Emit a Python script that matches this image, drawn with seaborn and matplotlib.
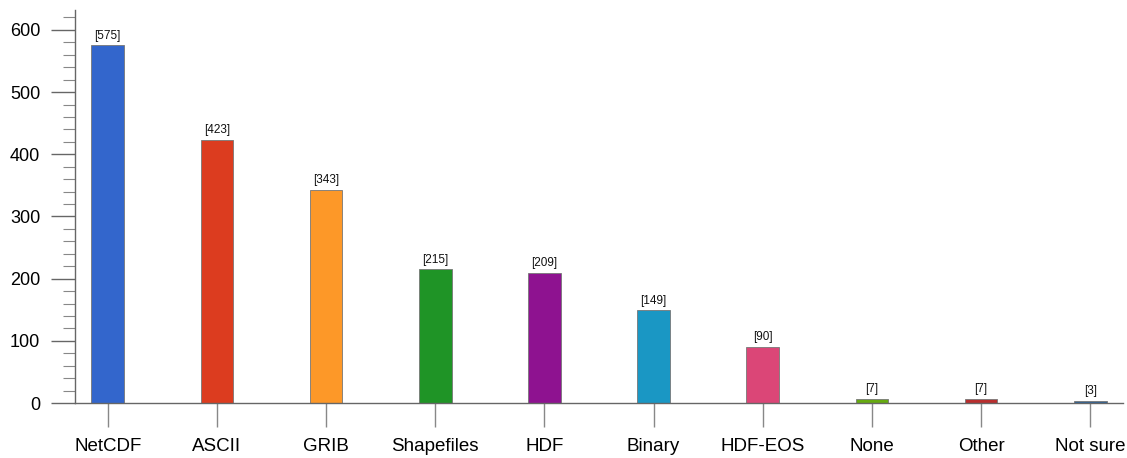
import pandas as pd
import seaborn as sb
import matplotlib.pyplot as plt
from matplotlib.ticker import MultipleLocator

formats = ['NetCDF', 'ASCII', 'GRIB', 'Shapefiles', 'HDF', 'Binary',
           'HDF-EOS', 'None', 'Other', 'Not sure']
counts = [575, 423, 343, 215, 209, 149, 90, 7, 7, 3]
colors = ['#3366cc', '#dc3c1f', '#fd9828', '#1f9426', '#8e1290', '#1a97c4',
          '#db4677', '#66aa11', '#b82e2e', '#316395']

df = pd.DataFrame({'format': formats, 'count': counts})

sb.set_style('white')
plt.rcParams['font.family'] = ['Liberation Sans', 'DejaVu Sans']

fig = plt.figure(figsize=(11.27, 4.58), dpi=100)
ax = fig.add_axes([75 / 1127, 55 / 458, (1123 - 75) / 1127, 393 / 458])

sb.barplot(data=df, x='format', y='count', hue='format', palette=colors,
           saturation=1, legend=False, width=0.3, edgecolor='#777777',
           linewidth=0.6, ax=ax)

# value labels above each bar
for i, v in enumerate(counts):
    ax.text(i, v + 6, f'[{v}]', ha='center', va='bottom', fontsize=8.5, color='#111111')

ax.set_xlim(-0.3, 9.3)
ax.set_ylim(0, 632)
ax.set_xlabel('')
ax.set_ylabel('')

ax.yaxis.set_major_locator(MultipleLocator(100))
ax.yaxis.set_minor_locator(MultipleLocator(20))

for side in ['top', 'right']:
    ax.spines[side].set_visible(False)
for side in ['left', 'bottom']:
    ax.spines[side].set_color('#666666')
    ax.spines[side].set_linewidth(1.0)

ax.tick_params(axis='y', which='major', direction='out', length=17, width=1.0,
               color='#666666', labelsize=13, labelcolor='black', pad=8, left=True)
ax.tick_params(axis='y', which='minor', direction='out', length=8.5, width=0.8,
               color='#888888', left=True)
ax.tick_params(axis='x', which='major', direction='out', length=17, width=1.0,
               color='#888888', labelsize=13.5, labelcolor='black', pad=8, bottom=True)

plt.savefig('out.png', dpi=100)
plt.close()
